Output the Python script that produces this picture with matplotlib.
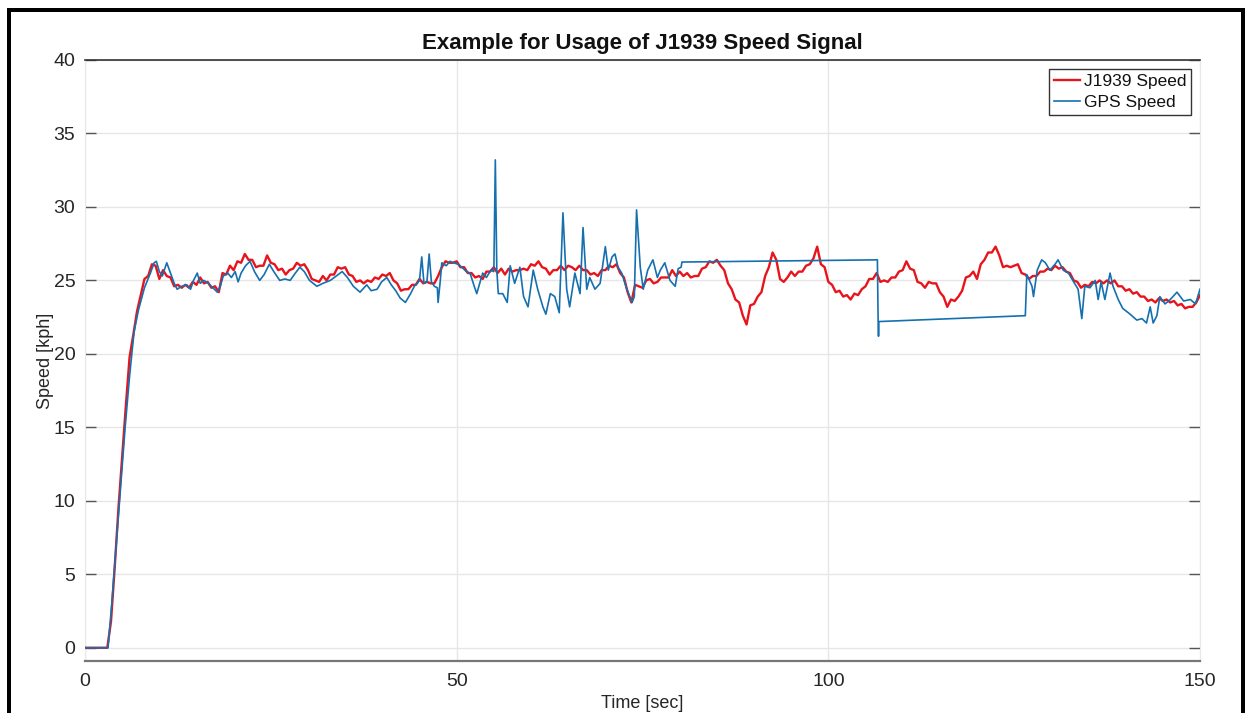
import numpy as np
import matplotlib
matplotlib.use("Agg")
import matplotlib.pyplot as plt
from matplotlib.lines import Line2D

plt.rcParams['font.family'] = ['Liberation Sans', 'DejaVu Sans']

title = "Example for Usage of J1939 Speed Signal"
xlabel = "Time [sec]"
ylabel = "Speed [kph]"
series_names = ["J1939 Speed", "GPS Speed"]
x_ticks = [0, 50, 100, 150]
y_ticks = [0, 5, 10, 15, 20, 25, 30, 35, 40]

# J1939 speed, sampled every 0.5 s from 0 to 150 s
j1939_step = 0.5
j1939_speed = [
    0, 0, 0, 0, 0, 0, 0, 1.8, 5.5, 9.5, 13.0, 16.5, 19.8, 21.3, 22.9, 24.0, 25.1, 25.3, 26.1, 26.0,
    25.1, 25.7, 25.3, 25.2, 24.6, 24.7, 24.5, 24.7, 24.5, 24.9, 24.7, 25.2, 24.8, 24.9, 24.5, 24.6, 24.2, 25.5, 25.4, 26.0,
    25.7, 26.3, 26.2, 26.8, 26.4, 26.4, 25.9, 26.0, 26.0, 26.7, 26.2, 26.1, 25.7, 25.8, 25.4, 25.7, 25.8, 26.2, 26.0, 26.1,
    25.7, 25.1, 25.0, 24.9, 25.3, 25.0, 25.4, 25.4, 25.9, 25.8, 25.9, 25.4, 25.3, 24.9, 25.0, 24.8, 25.0, 24.9, 25.2, 25.1,
    25.4, 25.3, 25.5, 25.0, 24.8, 24.3, 24.4, 24.4, 24.7, 24.7, 25.1, 24.8, 24.9, 24.8, 24.8, 25.3, 25.9, 26.3, 26.2, 26.2,
    26.3, 25.9, 25.9, 25.5, 25.5, 25.2, 25.3, 25.1, 25.6, 25.6, 25.9, 25.5, 25.8, 25.4, 25.8, 25.6, 25.7, 25.7, 25.8, 25.7,
    26.1, 26.0, 26.3, 25.9, 25.8, 25.4, 25.7, 25.7, 26.0, 25.7, 26.0, 25.9, 25.7, 26.0, 25.7, 25.7, 25.4, 25.5, 25.3, 25.7,
    25.7, 26.0, 25.9, 26.1, 25.5, 25.2, 24.2, 23.5, 24.7, 24.6, 24.5, 25.0, 25.1, 24.8, 24.9, 25.2, 25.2, 25.2, 25.7, 25.3,
    25.6, 25.3, 25.5, 25.2, 25.3, 25.3, 25.8, 25.9, 26.3, 26.2, 26.4, 26.0, 25.7, 24.8, 24.4, 23.7, 23.5, 22.6, 22.0, 23.3,
    23.4, 23.9, 24.2, 25.3, 25.9, 26.9, 26.4, 25.1, 24.9, 25.2, 25.6, 25.3, 25.6, 25.6, 26.0, 26.1, 26.5, 27.3, 26.1, 25.9,
    24.9, 24.7, 24.2, 24.3, 23.9, 24.0, 23.7, 24.1, 24.0, 24.4, 24.6, 25.1, 25.1, 25.5, 24.9, 25.0, 24.9, 25.2, 25.2, 25.6,
    25.7, 26.3, 25.8, 25.7, 24.9, 24.8, 24.5, 24.9, 24.8, 24.8, 24.2, 23.9, 23.2, 23.7, 23.6, 23.9, 24.3, 25.2, 25.3, 25.6,
    25.1, 26.1, 26.4, 26.9, 26.9, 27.3, 26.7, 25.9, 26.0, 25.9, 26.0, 26.1, 25.5, 25.4, 25.1, 25.3, 25.3, 25.6, 25.6, 25.8,
    25.7, 26.0, 25.8, 25.9, 25.6, 25.5, 25.0, 24.9, 24.5, 24.7, 24.6, 24.9, 24.8, 25.0, 24.8, 25.0, 24.8, 25.0, 24.6, 24.6,
    24.3, 24.4, 24.1, 24.2, 23.9, 23.9, 23.6, 23.7, 23.5, 23.8, 23.6, 23.7, 23.5, 23.6, 23.3, 23.4, 23.1, 23.2, 23.2, 23.5,
    24.0,
]

# GPS speed: (time, value) samples
gps_time = [
    0, 3.1, 3.6, 4.2, 4.8, 5.4, 6.0, 6.6, 7.2, 8.0, 8.8, 9.3, 9.6, 10.0, 10.4, 11.0, 11.5, 12.0, 12.4, 13.0,
    13.7, 14.2, 14.6, 15.1, 15.5, 16.0, 16.6, 17.2, 17.8, 18.2, 18.6, 19.2, 19.7, 20.2, 20.6, 21.0, 21.6, 22.2, 22.8, 23.5,
    24.1, 24.8, 25.4, 26.2, 26.9, 27.6, 28.3, 28.9, 29.5, 30.2, 30.7, 31.2, 32.0, 33.0, 33.8, 34.6, 35.3, 36.1, 37.0, 37.9,
    38.5, 39.3, 39.9, 40.6, 41.2, 41.8, 42.4, 43.1, 43.8, 44.3, 44.7, 45.0, 45.3, 45.6, 46.0, 46.3, 46.6, 47.0, 47.4, 47.5,
    47.8, 48.0, 48.6, 49.1, 49.6, 50.2, 50.7, 51.3, 51.8, 52.3, 52.7, 53.1, 53.5, 54.0, 54.6, 55.0, 55.2, 55.4, 55.6, 56.2,
    56.8, 57.2, 57.8, 58.5, 59.0, 59.6, 60.3, 60.9, 61.6, 62.0, 62.6, 63.2, 63.8, 64.3, 64.8, 65.2, 65.9, 66.6, 67.0, 67.5,
    67.9, 68.6, 69.3, 70.0, 70.4, 70.9, 71.3, 71.7, 72.2, 72.9, 73.6, 73.9, 74.2, 74.7, 75.1, 75.7, 76.4, 77.0, 77.4, 78.0,
    78.7, 79.4, 79.8, 80.2, 80.3, 106.6, 106.7, 106.75, 106.8, 126.5, 126.7, 127.4, 127.6, 128.1, 128.7, 129.2, 129.8, 130.5, 130.9, 131.6,
    132.3, 133.0, 133.6, 134.1, 134.5, 135.2, 135.9, 136.3, 136.7, 137.2, 137.9, 138.3, 139.0, 139.6, 140.6, 141.5, 142.2, 142.8, 143.3, 143.7,
    144.2, 144.6, 145.3, 146.0, 146.9, 147.8, 148.7, 149.4, 150.0,
]
gps_speed = [
    0, 0, 3.0, 7.0, 11.0, 15.0, 18.5, 21.5, 23.0, 24.5, 25.5, 26.2, 26.3, 25.6, 25.3, 26.2, 25.5, 24.8, 24.4, 24.6,
    24.7, 24.4, 25.0, 25.5, 24.8, 25.0, 24.8, 24.5, 24.2, 24.6, 25.3, 25.5, 25.2, 25.6, 24.9, 25.5, 26.0, 26.3, 25.6, 25.0,
    25.4, 26.1, 25.6, 25.0, 25.1, 25.0, 25.5, 25.9, 25.6, 25.0, 24.8, 24.6, 24.8, 25.0, 25.3, 25.6, 25.2, 24.6, 24.2, 24.7,
    24.3, 24.4, 24.9, 25.2, 24.7, 24.3, 23.8, 23.5, 24.1, 24.6, 24.8, 25.0, 26.6, 24.8, 24.9, 26.8, 24.9, 24.6, 24.5, 23.5,
    25.0, 26.2, 26.0, 26.3, 26.2, 26.1, 25.9, 25.6, 25.5, 24.7, 24.1, 24.8, 25.5, 25.2, 25.7, 25.6, 33.2, 25.7, 24.1, 24.1,
    23.5, 26.0, 24.8, 25.9, 23.9, 23.2, 25.7, 24.4, 23.2, 22.7, 24.1, 23.9, 22.8, 29.6, 24.4, 23.2, 25.5, 24.1, 28.6, 24.4,
    25.2, 24.4, 24.8, 27.3, 25.7, 26.6, 26.8, 25.9, 25.5, 24.4, 23.5, 23.9, 29.8, 25.9, 24.4, 25.7, 26.4, 25.2, 25.7, 26.2,
    25.0, 24.6, 25.8, 25.9, 26.25, 26.4, 22.2, 21.2, 22.2, 22.6, 25.4, 24.6, 23.9, 25.7, 26.4, 26.2, 25.7, 26.1, 26.4, 25.7,
    25.5, 24.9, 24.4, 22.4, 24.6, 24.5, 25.0, 23.7, 24.9, 23.7, 25.5, 24.6, 23.7, 23.1, 22.7, 22.3, 22.4, 22.1, 23.2, 22.1,
    22.6, 23.9, 23.4, 23.7, 24.2, 23.6, 23.7, 23.4, 24.4,
]

W, H, DPI = 1249, 713, 100
fig = plt.figure(figsize=(W / DPI, H / DPI), dpi=DPI)
fig.patch.set_facecolor('white')

ax = fig.add_axes([85 / W, 1 - 661 / H, (1200 - 85) / W, (661 - 60) / H])

j_t = np.arange(len(j1939_speed)) * j1939_step
ax.plot(j_t, j1939_speed, color='#e8141c', lw=1.7, label=series_names[0], zorder=3)
ax.plot(gps_time, gps_speed, color='#1570b0', lw=1.2, label=series_names[1], zorder=4)

ax.set_xlim(0, 150)
ax.set_ylim(-0.9, 40)
ax.set_xticks(x_ticks)
ax.set_yticks(y_ticks)

txt = '#262626'
ax.grid(True, color='#e6e6e6', lw=1.0, zorder=0)
ax.set_axisbelow(True)
ax.tick_params(axis='y', direction='in', length=8, width=1, color='#555555',
               labelsize=14, labelcolor=txt, right=True, pad=7)
ax.tick_params(axis='x', direction='in', length=0, labelsize=14, labelcolor=txt, pad=9)

for s in ['left', 'right']:
    ax.spines[s].set_color('#e8e8e8')
ax.spines['top'].set_color('#333333')
ax.spines['top'].set_linewidth(1.2)
ax.spines['bottom'].set_color('#777777')
ax.spines['bottom'].set_linewidth(1.6)

ax.text(0.5, 1 + (60 - 43) / 601, title, transform=ax.transAxes, ha='center', va='center',
        fontsize=16, fontweight='bold', color='#111111')
ax.set_xlabel(xlabel, fontsize=13, color=txt, va='center')
ax.xaxis.set_label_coords(0.5, -(703 - 661) / 601)
ax.set_ylabel(ylabel, fontsize=13, color=txt, va='center')
ax.yaxis.set_label_coords(-(85 - 45) / 1115, 0.5)

leg = ax.legend(loc='upper right', fontsize=12.5, frameon=True, fancybox=False,
                framealpha=1, edgecolor='#333333', borderpad=0.3, handlelength=1.5,
                handletextpad=0.2, labelspacing=0.35, borderaxespad=0.5)
leg.get_frame().set_linewidth(1.0)
for t in leg.get_texts():
    t.set_color('#111111')

# black frame around the figure (left, top, right)
lw_frame = 4 * 72 / DPI
fx_l, fx_r, fy_t = 8.7 / W, 1243 / W, 1 - 10.3 / H
fig.add_artist(Line2D([fx_l, fx_l], [0, fy_t], color='black', lw=lw_frame, solid_capstyle='projecting'))
fig.add_artist(Line2D([fx_l, fx_r], [fy_t, fy_t], color='black', lw=lw_frame, solid_capstyle='projecting'))
fig.add_artist(Line2D([fx_r, fx_r], [0, fy_t], color='black', lw=lw_frame, solid_capstyle='projecting'))

fig.savefig('out.png', dpi=DPI)
